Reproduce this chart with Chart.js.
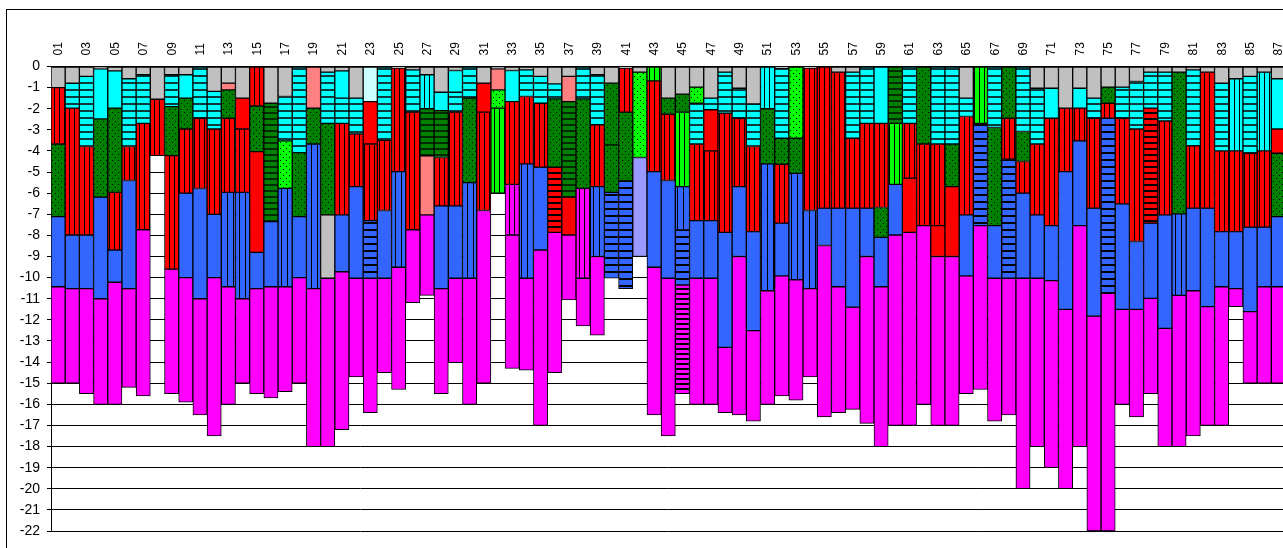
<!DOCTYPE html>
<html>
<head>
<meta charset="utf-8">
<script src="https://cdn.jsdelivr.net/npm/chart.js@4.4.1/dist/chart.umd.min.js"></script>
<style>
  html, body { margin:0; padding:0; background:#fff; overflow:hidden; width:1283px; height:548px; }
  #frame { position:absolute; left:6px; top:9px; width:1400px; height:700px; border:1px solid #000; box-sizing:border-box; }
  #graph { position:absolute; left:0; top:0; }
</style>
</head>
<body>
<div id="frame"></div>
<canvas id="graph" width="1290" height="548"></canvas>
<script>
// boreholes 01..87
const pozos = Array.from({length: 87}, (_, i) => String(i + 1).padStart(2, '0'))

// layer kinds, top to bottom, one letter per layer
// G gray, c cyan, p pale cyan, C cyan hatched, V cyan vertical, D dark green dotted, H dark green hatched,
// L light green dotted, l light green vertical, R red vertical, r red, S salmon, T red hatched,
// B blue, E blue hatched, F blue vertical, P lavender, M magenta, N magenta vertical, O magenta hatched
const capas = [
  'GRDBM','GCRBM','GCRBM','GcDBM','GcDRBM','GCRBM','GCRM','GR','GCDRM','GcDRBM',
  'CRBM','GCRBM','GSDRFM','GrRFM','RDrBM','GHBM','GCLFM','CDBM','SDFM','GCDGM',
  'GcCRBM','GCRBM','prREM','CRBM','GRFM','GCRM','GVHSM','GcHRBM','GcCRBM','CDFM',
  'GrRM','GSLl','GcRNM','GCRFM','GCRBM','GCDTM','GSHrM','CDNM','GCRFM','GDDE',
  'GRDE','GLP','lRBM','GDRBM','GDlFEO','GLCRBM','GCrRBM','GCRBM','GCRBM','GCRBM',
  'VDFM','GCDRBM','LDFM','GRFM','RBM','GRBM','GCRBM','CRBM','cRDBM','HlBM',
  'CRrM','DRM','CRrM','CDrM','GCRBM','lEM','CDBM','DREM','CDRBM','GCRBM',
  'GcRBM','GRBM','GcRBM','GCRBM','GDREM','GCRBM','GCRBM','GCTBM','GCRBM','GDFM',
  'GCRBM','GRBM','GCRBM','GVRBM','GCRBM','GVRBM','GcrDBM'
]

// depth of the bottom of each layer (m)
const fondos = [
  [1,3.67,7.11,10.43,15],[0.79,1.97,7.98,10.52,15],[0.47,3.79,7.98,10.52,15.5],[0.11,2.48,6.19,11,16],
  [0.21,1.97,5.96,8.69,10.22,16],[0.58,3.79,5.4,10.52,15.2],[0.39,2.69,7.73,15.6],[1.55,4.22],
  [0.39,1.9,4.22,9.6,15.5],[0.39,1.5,2.96,6,10,15.9],[2.45,5.78,11,16.5],[1.18,2.96,7,10,17.5],
  [0.79,1.11,2.45,5.96,10.43,16],[1.5,2.96,5.96,11,15],[1.87,4.03,8.8,10.52,15.5],[1.74,7.35,10.43,15.7],
  [1.42,3.52,5.77,10.43,15.4],[4.08,7.11,10,15],[1.97,3.67,10.52,18],[0.27,2.69,7.03,10.03,18],
  [0.21,1.5,2.69,7.03,9.72,17.2],[1.5,3.19,5.69,10.03,14.7],[1.66,3.67,7.3,10.03,16.4],[3.5,6.82,10.03,14.5],
  [0.08,4.98,9.51,15.3],[0.16,2.16,7.73,11.18],[0.39,2,4.23,7.03,10.84],[1.22,2.09,4.31,6.6,10.52,15.5],
  [0.19,1.22,2.16,6.6,10.03,14.03],[1.5,5.5,10.03,16],[0.79,2.16,6.82,15],[0.11,1.11,1.97,6],
  [0.19,1.66,5.58,7.98,14.3],[0.16,1.42,4.61,10.03,14.38],[0.47,1.74,4.77,8.69,17],[0.82,1.53,4.77,7.86,14.5],
  [0.47,1.66,6.19,7.98,11.06],[1.53,5.77,10.03,12.29],[0.39,2.76,5.69,9,12.72],[0.79,3.71,5.96,10.03],
  [0.08,2.16,5.42,10.52],[0.27,4.31,9],[0.68,4.98,9.51,16.5],[1.5,2.26,5.4,10.03,17.5],
  [1.31,2.16,5.69,7.74,10.35,15.5],[0.98,1.74,3.67,7.3,10.03,16],[1.5,2.05,4,7.3,10.03,16],[0.27,2.21,7.86,13.3,16.4],
  [1.03,2.45,5.69,9,16.5],[1.77,3.79,7.82,12.51,16.8],[2,4.61,10.62,16],[0.08,3.4,4.63,7.42,9.92,15.6],
  [3.4,5.06,10.1,15.8],[0.08,6.82,10.52,14.7],[6.71,8.48,16.6],[0.27,6.71,10.43,16.4],
  [0.27,3.4,6.71,11.4,16.24],[2.69,6.71,9,16.9],[2.69,6.68,8.09,10.43,18],[2.69,5.58,7.98,17],
  [2.69,5.29,7.86,17],[3.67,7.54,16],[3.67,7.54,9,17],[3.67,5.69,9,17],
  [1.5,2.37,7.03,9.92,15.5],[2.69,7.54,15.3],[2.89,7.54,10.03,16.8],[2.45,4.39,10.03,16.5],
  [3.08,4.5,6,10.03,20],[1.03,3.67,7.03,10.03,18],[1.03,2.45,7.54,10.14,19],[1.97,4.98,11.5,20],
  [1.03,1.97,3.52,7.54,18],[1.5,2.45,6.71,11.82,22],[0.98,1.74,2.45,10.74,22],[0.98,2.45,6.51,11.5,16],
  [0.71,2.96,8.29,11.5,16.6],[0.27,1.97,7.42,10.98,15.5],[0.27,2.58,7.03,12.4,18],[0.27,6.98,10.84,18],
  [0.16,3.76,6.71,10.62,17.5],[0.27,6.71,11.37,17],[0.79,4,7.82,10.43,17],[0.58,4,7.82,10.52,11.37],
  [0.47,4.11,7.61,11.61,15],[0.27,4,7.61,10.43,15],[0.58,2.96,4.11,7.11,10.43,15]
]

// fill patterns
function rayado(fondo, dir, paso, grueso, tinta) {
  const c = document.createElement('canvas')
  c.width = dir == 'h' ? 8 : paso
  c.height = dir == 'h' ? paso : 8
  const x = c.getContext('2d')
  x.fillStyle = fondo
  x.fillRect(0, 0, c.width, c.height)
  x.fillStyle = tinta
  if (dir == 'h') x.fillRect(0, paso - grueso, 8, grueso)
  else x.fillRect(paso - grueso, 0, grueso, 8)
  return x.createPattern(c, 'repeat')
}
function punteado(fondo) {
  const c = document.createElement('canvas')
  c.width = 6; c.height = 6
  const x = c.getContext('2d')
  x.fillStyle = fondo
  x.fillRect(0, 0, 6, 6)
  x.fillStyle = '#000'
  x.fillRect(1, 1, 1, 1)
  x.fillRect(4, 4, 1, 1)
  return x.createPattern(c, 'repeat')
}

const relleno = {
  G: '#c0c0c0', c: '#00ffff', p: '#ccffff',
  C: rayado('#00ffff', 'h', 7, 2, '#0b3b3b'), V: rayado('#00ffff', 'v', 5, 1, '#000'),
  D: punteado('#008000'), H: rayado('#008000', 'h', 6, 2, '#002a00'),
  L: punteado('#00ff00'), l: rayado('#00ff00', 'v', 5, 1, '#000'),
  R: rayado('#ff0000', 'v', 5, 1, '#000'), r: '#ff0000', S: '#ff8080', T: rayado('#ff0000', 'h', 6, 2, '#000'),
  B: '#3366ff', E: rayado('#3366ff', 'h', 7, 2, '#000'), F: rayado('#3366ff', 'v', 6, 1, '#000'), P: '#9999ff',
  M: '#ff00ff', N: rayado('#ff00ff', 'v', 5, 1, '#000'), O: rayado('#ff00ff', 'h', 5, 2, '#000')
}

const maxCapas = Math.max(...capas.map(k => k.length))
const datasets = []
for (let j = 0; j < maxCapas; j++) {
  datasets.push({
    data: fondos.map(f => j < f.length ? [-(j ? f[j - 1] : 0), -f[j]] : null),
    backgroundColor: capas.map(k => relleno[k[j]] || 'rgba(0,0,0,0)'),
    borderColor: '#000',
    borderWidth: 1,
    borderSkipped: false,
    grouped: false,
    barPercentage: 1,
    categoryPercentage: 1
  })
}

Chart.defaults.font.family = 'Arial, "Liberation Sans", sans-serif'
Chart.defaults.color = '#000'

const myChart = new Chart(document.getElementById('graph'), {
  type: 'bar',
  data: { labels: pozos, datasets: datasets },
  options: {
    responsive: false,
    animation: false,
    devicePixelRatio: 1,
    layout: { padding: { left: 0, top: 0, right: 4.5, bottom: 17 } },
    plugins: { legend: { display: false }, tooltip: { enabled: false } },
    scales: {
      x: {
        position: 'top',
        offset: true,
        grid: { display: false, drawTicks: false },
        border: { display: true, color: '#000' },
        ticks: {
          autoSkip: false, minRotation: 90, maxRotation: 90, padding: 11, labelOffset: 15,
          font: { size: 12 },
          callback: (v, i) => i % 2 == 0 ? pozos[i] : ''
        },
        afterFit: s => { s.height = 66.5 }
      },
      y: {
        min: -22, max: 0,
        ticks: { stepSize: 1, padding: 7, font: { size: 14 } },
        grid: { color: '#000', tickLength: 4 },
        border: { color: '#000' },
        afterFit: s => { s.width = 51 }
      }
    }
  }
})
</script>
</body>
</html>
